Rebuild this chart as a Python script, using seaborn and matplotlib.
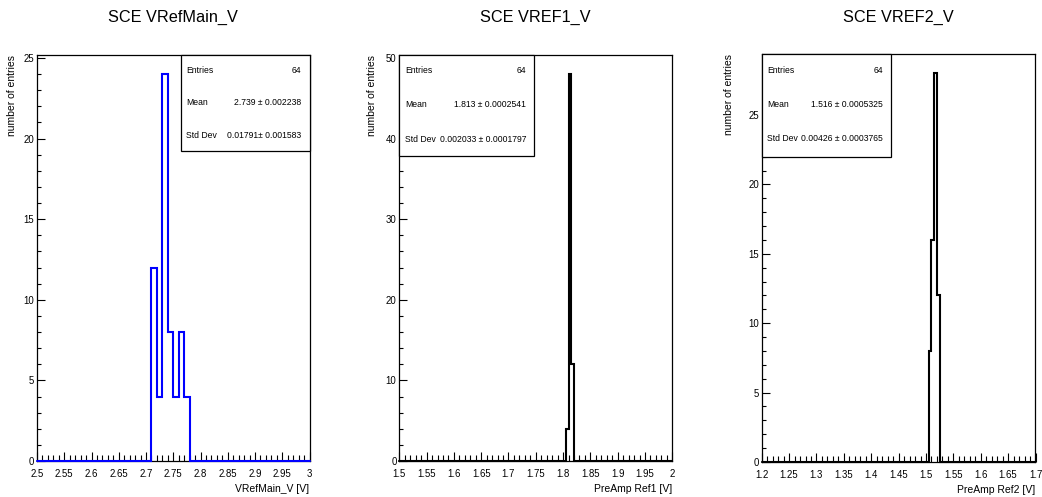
import numpy as np
import pandas as pd
import matplotlib
matplotlib.use("Agg")
import matplotlib.pyplot as plt
import seaborn as sns
from matplotlib.ticker import MultipleLocator, FuncFormatter
from matplotlib.patches import Rectangle

# ---------------- data ----------------
titles = ["SCE VRefMain_V", "SCE VREF1_V", "SCE VREF2_V"]
xlabels = ["VRefMain_V [V]", "PreAmp Ref1 [V]", "PreAmp Ref2 [V]"]
ylabel = "number of entries"

# bin centres of filled bins and their counts
vrefmain_centers = [2.715, 2.725, 2.735, 2.745, 2.755, 2.765, 2.775]
vrefmain_counts = [12, 4, 24, 8, 4, 8, 4]
vref1_centers = [1.8075, 1.8125, 1.8175]
vref1_counts = [4, 48, 12]
vref2_centers = [1.5075, 1.5125, 1.5175, 1.5225]
vref2_counts = [8, 16, 28, 12]

# histogram ranges (low, high, nbins)
hist_ranges = [(2.5, 3.0, 50), (1.5, 2.0, 100), (1.2, 1.7, 100)]

stat_entries = ["64", "64", "64"]
stat_means = ["2.739 ± 0.002238", "1.813 ± 0.0002541", "1.516 ± 0.0005325"]
stat_stds = ["0.01791± 0.001583", "0.002033 ± 0.0001797", "0.00426 ± 0.0003765"]

y_major = [5, 10, 5]
y_minor = [1, 2, 1]
line_colors = ["#0000ff", "#000000", "#000000"]

# ---------------- layout (pixels of a 1042x497 figure) ----------------
W, H = 1042, 497
axes_px = [(37, 309.5, 54.7, 461), (399.3, 672.3, 54.7, 461), (761.7, 1035.5, 54, 462)]
box_frac = [(0.530, 1.0, 0.7635), (0.0, 0.4945, 0.7495), (0.0, 0.471, 0.748)]
stat_text_pos = [
    (0.546, 0.970, (0.961, 0.8825, 0.801)),
    (0.022, 0.465, (0.961, 0.877, 0.791)),
    (0.021, 0.443, (0.959, 0.875, 0.792)),
]
ylabel_x = [-0.072, -0.0806, -0.101]

sns.set_style("ticks")
plt.rcParams["font.family"] = ["Liberation Sans", "DejaVu Sans"]
plt.rcParams.update({
    "text.color": "black",
    "axes.labelcolor": "black",
    "xtick.color": "black",
    "ytick.color": "black",
    "axes.edgecolor": "black",
})

fig = plt.figure(figsize=(W / 100, H / 100), dpi=100)
fig.patch.set_facecolor("white")

datasets = [
    (vrefmain_centers, vrefmain_counts),
    (vref1_centers, vref1_counts),
    (vref2_centers, vref2_counts),
]

for i in range(3):
    l, r, t, b = axes_px[i]
    ax = fig.add_axes([l / W, 1 - b / H, (r - l) / W, (b - t) / H])
    lo, hi, nb = hist_ranges[i]
    centers, counts = datasets[i]
    df = pd.DataFrame({"value": centers, "count": counts})
    sns.histplot(data=df, x="value", weights="count", bins=nb, binrange=(lo, hi),
                 element="step", fill=False, color=line_colors[i],
                 linewidth=1.5, ax=ax)
    for ln in ax.lines:
        ln.set_clip_on(False)
        ln.set_zorder(3)
        ln.set_solid_joinstyle("miter")

    ymax = max(counts) * 1.05
    ax.set_xlim(lo, hi)
    ax.set_ylim(0, ymax)

    ax.xaxis.set_major_locator(MultipleLocator(0.05))
    ax.xaxis.set_minor_locator(MultipleLocator(0.01))
    ax.yaxis.set_major_locator(MultipleLocator(y_major[i]))
    ax.yaxis.set_minor_locator(MultipleLocator(y_minor[i]))
    ax.xaxis.set_major_formatter(FuncFormatter(lambda v, p: f"{v:g}"))
    ax.yaxis.set_major_formatter(FuncFormatter(lambda v, p: f"{v:g}"))

    ax.tick_params(axis="both", which="both", direction="in", top=False,
                   right=False, colors="black", labelsize=6.9, width=0.8)
    ax.tick_params(axis="x", which="major", length=6.5, pad=5.6)
    ax.tick_params(axis="x", which="minor", length=4.0, width=0.8)
    ax.tick_params(axis="y", which="major", length=5.8, pad=2)
    ax.tick_params(axis="y", which="minor", length=3.2, width=0.8)

    for sp in ax.spines.values():
        sp.set_visible(True)
        sp.set_color("black")
        sp.set_linewidth(0.9)

    ax.set_xlabel(xlabels[i], fontsize=7.5, loc="right", color="black")
    ax.xaxis.set_label_coords(1.0, -(484.0 - 461.0) / 406.0)
    ax.set_ylabel(ylabel, fontsize=7.5, loc="top", color="black")
    ax.yaxis.set_label_coords(ylabel_x[i], 1.0)

    ax.text(0.5, (b - 17.5) / (b - t), titles[i], transform=ax.transAxes,
            ha="center", va="center", fontsize=11.7, color="black")

    # statistics box
    bx0, bx1, by0 = box_frac[i]
    rect = Rectangle((bx0, by0), bx1 - bx0, 1.0 - by0, transform=ax.transAxes,
                     facecolor="white", edgecolor="black", linewidth=0.9,
                     zorder=5, clip_on=False)
    ax.add_patch(rect)
    lx, vx, rows = stat_text_pos[i]
    labels = ["Entries", "Mean", "Std Dev"]
    values = [stat_entries[i], stat_means[i], stat_stds[i]]
    for lab, val, yy in zip(labels, values, rows):
        ax.text(lx, yy, lab, transform=ax.transAxes, ha="left", va="center",
                fontsize=6.2, zorder=6, color="black")
        ax.text(vx, yy, val, transform=ax.transAxes, ha="right", va="center",
                fontsize=6.2, zorder=6, color="black")

fig.savefig("out.png", dpi=100, facecolor="white")
